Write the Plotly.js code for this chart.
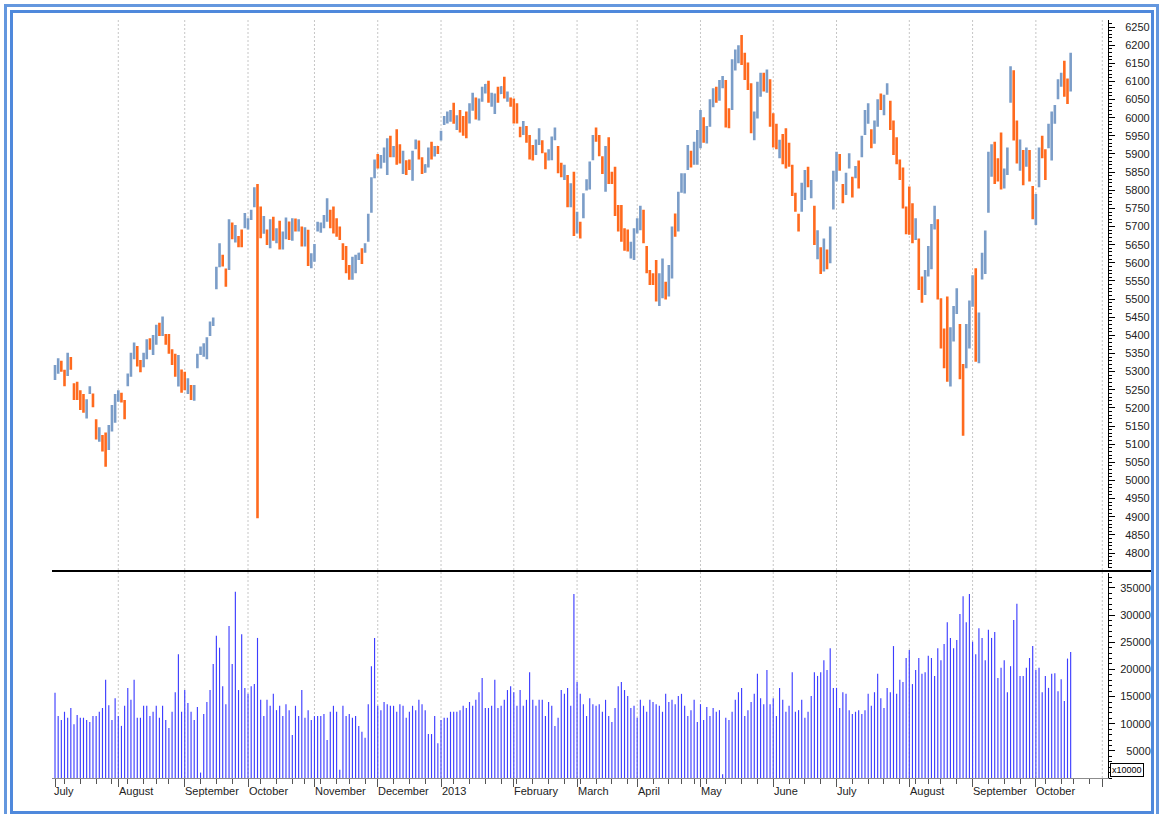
<!DOCTYPE html>
<html><head><meta charset="utf-8">
<script src="https://cdn.plot.ly/plotly-3.0.1.min.js"></script>
<style>
html,body{margin:0;padding:0;background:#fff;}
#wrap{position:relative;width:1159px;height:814px;overflow:hidden;}
#chart{position:absolute;left:0;top:0;width:1159px;height:814px;}
.frame{position:absolute;pointer-events:none;box-sizing:border-box;}
</style></head><body>
<div id="wrap"><div id="chart"></div>
<div class="frame" style="left:4px;top:4px;width:1155px;height:830px;border:3px solid #6497de;"></div>
<div class="frame" style="left:10px;top:10px;width:1144px;height:804px;border:3px solid #4f89dc;"></div>
</div>
<script>
// Month boundaries (trading-day index of first bar of each month) and labels
const monthStarts = [0,20,41,61,82,102,122,145,165,184,204,227,247,270,290,310,331];
const monthLabels = ['July','August','September','October','November','December','2013','February','March','April','May','June','July','August','September','October',''];
// Weekly minor ticks (first trading day of each week)
const weekTicks = [3,8,13,18,23,28,32,36,46,51,56,65,70,75,79,84,89,93,98,107,112,117,126,131,136,141,146,151,156,161,166,171,176,181,189,194,198,202,206,212,217,222,232,237,242,252,257,262,267,272,276,280,285,295,300,305,313,318,322,327];
const priceTicks = [4800,4850,4900,4950,5000,5050,5100,5150,5200,5250,5300,5350,5400,5450,5500,5550,5600,5650,5700,5750,5800,5850,5900,5950,6000,6050,6100,6150,6200,6250];
const volTicks = [5000,10000,15000,20000,25000,30000,35000];
const volTickText = ['\u20075000','10000','15000','20000','25000','30000','35000'];

const openP = [
5285,5300,5325,5300,5295,5335,5262,5265,5242,5230,5178,5242,5235,5162,5112,5120,5120,5090,5142,5166,
5222,5238,5215,5265,5292,5340,5364,5328,5318,5340,5388,5352,5380,5430,5405,5400,5398,5356,5342,5268,5298,
5294,5244,5258,5226,5315,5350,5346,5340,5404,5430,5535,5596,5618,5578,5590,5705,5662,5670,5686,5700,
5696,5722,5760,5810,5745,5686,5686,5648,5718,5660,5706,5643,5672,5707,5668,5717,5690,5693,5651,5680,5590,
5609,5690,5687,5700,5720,5740,5746,5716,5695,5648,5636,5588,5560,5577,5611,5634,5631,5666,5748,5840,
5894,5865,5881,5852,5942,5895,5955,5920,5852,5877,5881,5835,5917,5930,5885,5851,5870,5927,5897,5919,
5941,5984,5988,5993,6033,5971,6013,5998,6007,5990,6025,6048,5999,6049,6070,6094,6035,6017,6079,6068,6105,6048,6052,
6044,6033,5971,5957,5971,5943,5919,5902,5930,5933,5898,5886,5890,5942,5912,5871,5833,5830,5760,5830,
5688,5707,5731,5803,5811,5891,5968,5945,5888,5810,5930,5846,5848,5750,5747,5688,5685,5617,5618,
5686,5698,5735,5637,5575,5567,5594,5492,5515,5542,5517,5574,5728,5699,5799,5798,5864,5903,5878,5882,
5928,5992,5935,5984,6035,6079,6054,6085,6088,6019,6038,6137,6156,6218,6170,6143,6078,5948,6010,6066,6118,6077,6090,
6001,5975,5894,5945,5958,5923,5860,5787,5729,5750,5783,5858,5784,5744,5620,5634,5587,5630,5611,5760,
5834,5894,5810,5794,5865,5830,5837,5873,5898,5960,5990,5962,5935,5984,6061,6014,6067,6037,5981,5937,5878,5849,5746,
5794,5751,5670,5650,5553,5519,5572,5597,5700,5694,5485,5406,5479,5278,5395,5467,5413,5297,5324,5380,
5489,5554,5340,5563,5583,5758,5848,5920,5880,5940,5812,5851,6053,6108,5978,5864,5899,5871,5900,5801,
5714,5821,5942,5903,5924,5898,5989,6058,6090,6145,6100,6085];
const highP = [
5318,5337,5330,5305,5352,5340,5268,5272,5249,5238,5224,5260,5240,5169,5147,5125,5132,5153,5208,5238,
5249,5242,5222,5295,5352,5380,5371,5332,5352,5389,5392,5401,5429,5435,5452,5404,5404,5362,5349,5346,5306,
5300,5282,5263,5263,5349,5369,5378,5395,5438,5449,5589,5654,5622,5584,5720,5711,5704,5674,5692,5737,
5723,5746,5808,5817,5755,5729,5692,5720,5727,5695,5716,5686,5725,5714,5723,5722,5720,5700,5698,5691,5626,
5652,5713,5711,5732,5778,5746,5755,5723,5700,5654,5646,5594,5617,5622,5628,5640,5654,5735,5836,5885,
5900,5897,5918,5943,5950,5922,5968,5927,5909,5883,5885,5909,5940,5937,5891,5872,5918,5934,5922,5922,
5964,6005,6017,6021,6041,6007,6021,6005,6017,6040,6069,6056,6053,6085,6093,6102,6069,6067,6085,6087,6113,6072,6056,
6053,6040,5975,5991,5977,5952,5925,5940,5971,5938,5904,5913,5948,5973,5922,5876,5870,5842,5819,5851,
5741,5713,5792,5830,5879,5952,5973,5952,5894,5922,5946,5851,5865,5759,5759,5695,5692,5658,5695,
5723,5757,5746,5646,5580,5571,5608,5571,5612,5548,5594,5700,5736,5796,5847,5847,5925,5909,5934,5966,
6021,6001,5977,6051,6081,6085,6104,6115,6104,6026,6161,6188,6200,6228,6179,6152,6095,6017,6099,6124,6124,6133,6106,
6012,5983,5939,5955,5971,5931,5870,5793,5735,5821,5856,5865,5828,5757,5690,5643,5667,5637,5700,5854,
5906,5900,5817,5848,5902,5837,5867,5882,5950,6021,6040,5968,5992,6051,6067,6063,6095,6047,5992,5946,5885,5863,5755,
5810,5764,5723,5667,5562,5580,5646,5707,5757,5720,5502,5419,5507,5422,5481,5530,5431,5321,5431,5496,
5566,5585,5463,5628,5689,5906,5927,5934,5888,5959,5860,5918,6142,6131,5992,5940,5911,5918,5911,5812,
5790,5918,5950,5913,5983,6017,6035,6106,6124,6157,6108,6179];
const lowP = [
5277,5294,5300,5260,5288,5305,5222,5222,5194,5187,5171,5238,5202,5113,5107,5080,5038,5084,5135,5159,
5217,5215,5169,5260,5286,5334,5314,5298,5312,5334,5360,5346,5374,5398,5398,5374,5349,5318,5286,5259,5242,
5249,5238,5222,5220,5309,5346,5341,5334,5398,5426,5527,5588,5590,5534,5580,5665,5656,5643,5643,5695,
5692,5718,5753,4896,5668,5680,5649,5640,5661,5654,5637,5637,5665,5663,5661,5686,5686,5645,5645,5591,5585,
5603,5686,5683,5695,5713,5695,5681,5672,5663,5608,5571,5553,5553,5571,5608,5597,5628,5658,5738,5833,
5860,5860,5876,5842,5891,5891,5870,5874,5845,5842,5856,5826,5913,5885,5845,5848,5863,5885,5893,5900,
5937,5980,5984,5989,5983,5966,5959,5950,5943,5984,6019,5995,5992,6044,6067,6041,6030,6010,6041,6065,6053,6044,6030,
5984,5984,5946,5952,5931,5885,5882,5897,5925,5902,5858,5882,5883,5938,5847,5836,5828,5753,5753,5674,
5681,5667,5723,5799,5802,5883,5934,5894,5845,5796,5817,5817,5729,5686,5658,5633,5631,5612,5608,
5681,5690,5654,5571,5539,5539,5493,5481,5502,5499,5507,5557,5672,5686,5793,5791,5856,5863,5870,5870,
5916,5931,5929,5975,6029,6041,6047,6081,5973,5971,6021,6130,6150,6145,6104,6076,5957,5938,5998,6058,6072,6069,5975,
5918,5913,5888,5872,5860,5865,5784,5741,5686,5741,5773,5808,5778,5649,5610,5569,5576,5582,5599,5747,
5824,5854,5764,5787,5860,5780,5833,5805,5891,5952,5983,5916,5928,5975,6021,6007,6063,5966,5897,5872,5828,5750,5679,
5677,5654,5663,5525,5490,5511,5562,5582,5692,5499,5364,5309,5272,5259,5383,5459,5279,5123,5309,5364,
5479,5327,5323,5554,5569,5738,5837,5817,5824,5802,5805,5842,6041,5937,5874,5854,5814,5865,5824,5720,
5704,5808,5888,5828,5916,5882,5983,6051,6085,6058,6038,6072];
const closeP = [
5310,5330,5305,5268,5345,5310,5230,5228,5200,5195,5218,5256,5208,5120,5140,5086,5048,5146,5200,5230,
5244,5220,5176,5290,5345,5374,5320,5303,5347,5383,5365,5395,5422,5404,5445,5378,5355,5324,5292,5338,5250,
5255,5276,5228,5257,5343,5365,5372,5388,5432,5445,5580,5646,5595,5540,5710,5670,5698,5648,5650,5731,
5718,5741,5800,5746,5677,5722,5655,5712,5668,5689,5645,5680,5718,5670,5716,5691,5715,5652,5692,5600,5620,
5646,5708,5706,5727,5770,5702,5690,5678,5668,5614,5580,5558,5610,5616,5625,5602,5650,5727,5826,5879,
5866,5892,5912,5933,5898,5918,5880,5880,5902,5848,5860,5900,5936,5891,5851,5869,5912,5891,5918,5905,
5960,6001,6012,6017,5990,6002,5966,5957,5952,6033,6063,6002,6046,6080,6090,6048,6064,6060,6047,6084,6060,6068,6034,
5992,5991,5950,5986,5937,5893,5888,5935,5965,5906,5864,5909,5940,5969,5856,5841,5864,5764,5811,5693,
5734,5672,5784,5826,5870,5944,5940,5901,5851,5909,5832,5822,5745,5695,5670,5641,5638,5652,5685,
5718,5749,5665,5580,5544,5543,5507,5560,5599,5505,5584,5683,5680,5783,5841,5840,5917,5869,5926,5954,
6008,5940,5971,6042,6075,6047,6097,6111,5990,5978,6144,6181,6194,6155,6113,6085,5974,6007,6087,6116,6078,6125,5991,
5929,5921,5933,5882,5873,5873,5794,5747,5692,5811,5846,5815,5822,5662,5680,5578,5656,5589,5688,5841,
5896,5860,5771,5841,5897,5787,5863,5814,5943,6013,6033,5922,5984,6042,6027,6056,6091,5976,5908,5881,5835,5763,5688,
5693,5667,5716,5542,5499,5572,5636,5692,5749,5525,5380,5322,5300,5403,5469,5521,5297,5147,5416,5480,
5556,5357,5446,5619,5675,5886,5916,5831,5832,5821,5853,5909,6130,5960,5888,5930,5826,5912,5835,5731,
5780,5905,5896,5838,5975,6001,6029,6099,6119,6070,6046,6166];
const volume = [
15700,11400,10700,12200,11100,12900,9900,11600,11100,11100,10700,10300,11400,11400,12200,12900,18100,13400,10700,14700,
11400,9600,13300,16600,14400,18100,11100,11100,13300,13300,11400,12200,13300,11100,13300,10700,9200,12200,15800,22800,12200,
16200,13800,12200,10700,13100,1000,11800,14000,16200,21000,26200,24000,16900,13600,28000,21000,34300,16200,26500,16600,
15500,16900,17300,25800,14400,11400,14400,13300,15500,12500,13300,11400,13600,12500,7900,13300,11400,16200,11100,12500,10700,
11400,11400,11400,11800,7000,12200,13300,12200,1500,13300,11400,11800,11100,11400,9600,8500,7400,13600,20600,25800,
13300,12500,14000,13600,13300,13300,12200,13600,13300,11100,12200,13300,12500,14400,13600,12500,8100,8100,11400,6400,
10700,11100,11100,12200,12200,12200,12500,13300,12900,14000,13300,14400,15800,18400,12900,12900,13300,18100,12900,13300,14400,16200,16900,
15800,13300,16200,13300,14400,19500,14400,13300,14400,14400,11400,14000,13300,9600,11100,16200,15500,16600,13300,33900,
17700,15500,13600,11400,14700,13600,13300,13600,12200,14400,11400,10300,12900,16900,17700,16200,15100,12900,13300,
11100,14400,13300,12200,14400,14000,13600,13300,12200,15500,14000,14400,13600,15100,15500,13300,11400,12500,14400,10300,
13600,10700,13100,11400,12900,12200,12500,700,11100,10700,12200,14400,15800,16600,11400,12500,14000,15500,19200,14700,13600,19900,13600,
14700,11400,16600,14400,12200,13300,19500,12200,12500,14400,11100,12200,15100,19500,18800,19500,21700,19900,23900,16600,
16600,12900,15800,15500,12500,11800,12200,12500,11800,12500,15500,13300,15800,19200,14700,12900,16600,15800,24300,15500,18100,17700,22100,
23600,17300,19900,22100,19200,19500,22500,22100,18800,23900,21700,24700,28700,25800,23900,25400,30200,33500,28700,33900,
25100,22800,27600,25800,21700,27300,25800,26900,18400,20300,21700,15800,20600,29100,32100,18800,18800,20300,22100,24300,
19900,20300,15800,18800,16600,19200,19300,16000,18200,14200,22000,23200];

const n = openP.length;
if (highP.length!==n || lowP.length!==n || closeP.length!==n || volume.length!==n) {
  throw new Error('length mismatch '+[openP.length,highP.length,lowP.length,closeP.length,volume.length].join(','));
}
const idx = openP.map((_, i) => i);

// pixel geometry of the figure
const W = 1159, H = 814, L = 52, R = 1108, T = 20, B = 778;
const plotH = B - T;
const py = p => (B - p) / plotH;
const px = p => (p - L) / (R - L);

const traces = [
  {type:'bar', x:idx, y:volume, xaxis:'x', yaxis:'y', width:0.36,
   marker:{color:'#3d3dff', line:{width:0}}, hoverinfo:'skip'},
  {type:'ohlc', x:idx, open:openP, high:highP, low:lowP, close:closeP, xaxis:'x2', yaxis:'y2',
   line:{width:2.6}, tickwidth:0.3,
   increasing:{line:{color:'#7b9dc8', width:2.6}},
   decreasing:{line:{color:'#ff6a1e', width:2.6}}, hoverinfo:'skip'}
];

const shapes = monthStarts.slice(1).map(k => ({
  type:'line', xref:'x', yref:'paper', x0:k, x1:k, y0:0, y1:1, layer:'below',
  line:{color:'#c6c6c6', width:1, dash:'2px,2px'}
}));
shapes.push({type:'line', xref:'paper', yref:'paper', x0:0, x1:px(1152), y0:py(571), y1:py(571),
  line:{color:'#000', width:2}});

const annotations = monthLabels.map((t, i) => ({
  x: monthStarts[i], xref:'x', y: py(791), yref:'paper', xanchor:'left', yanchor:'middle',
  text:t, showarrow:false, font:{size:11, color:'#222'}, xshift:(i===0 ? -3 : -1.5)
})).filter(a => a.text);
annotations.push({x:px(1110), xref:'paper', y:py(777), yref:'paper', xanchor:'left', yanchor:'bottom',
  text:'x10000', showarrow:false, font:{size:9, color:'#000'}, bordercolor:'#000', borderwidth:1, borderpad:1, bgcolor:'#fff'});

const layout = {
  width:W, height:H, margin:{l:L, r:W-R, t:T, b:H-B, pad:0},
  paper_bgcolor:'#fff', plot_bgcolor:'#fff', showlegend:false,
  font:{family:'Liberation Sans, Arial, sans-serif', size:11, color:'#222'},
  xaxis:{domain:[0,1], range:[-0.95,332.8], anchor:'y', showgrid:false, zeroline:false,
    showline:true, linecolor:'#8c8c8c', linewidth:1, ticks:'outside', tickmode:'array',
    tickvals:monthStarts, ticklen:8, tickcolor:'#555', tickwidth:1, showticklabels:false,
    minor:{tickmode:'array', tickvals:weekTicks, ticks:'outside', ticklen:5, tickcolor:'#555', tickwidth:1, showgrid:false},
    rangeslider:{visible:false}},
  xaxis2:{domain:[0,1], matches:'x', anchor:'y2', showgrid:false, zeroline:false, showline:false,
    ticks:'', showticklabels:false, rangeslider:{visible:false}},
  yaxis:{domain:[0, py(573)], range:[0, (B-573)*184.2], side:'right', anchor:'x',
    showline:true, linecolor:'#000', linewidth:1, ticks:'outside', ticklen:6, tickcolor:'#000',
    tickmode:'array', tickvals:volTicks, ticktext:volTickText, showgrid:false, zeroline:false,
    ticklabelstandoff:3, tickfont:{size:11, color:'#222'},
    minor:{tickmode:'linear', tick0:0, dtick:1000, ticks:'outside', ticklen:3, tickcolor:'#000', showgrid:false}},
  yaxis2:{domain:[py(568), 1], range:[4758.7, 6269.3], side:'right', anchor:'x2',
    showline:true, linecolor:'#000', linewidth:1, ticks:'outside', ticklen:6, tickcolor:'#000',
    tickmode:'array', tickvals:priceTicks, showgrid:false, zeroline:false,
    ticklabelstandoff:8, tickfont:{size:11, color:'#222'},
    minor:{tickmode:'linear', tick0:0, dtick:10, ticks:'outside', ticklen:3, tickcolor:'#000', showgrid:false}},
  shapes:shapes, annotations:annotations
};

Plotly.newPlot('chart', traces, layout, {staticPlot:true, displayModeBar:false});
</script>
</body></html>
